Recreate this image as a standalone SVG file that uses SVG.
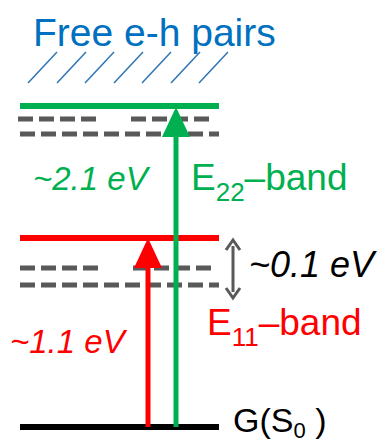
<svg xmlns="http://www.w3.org/2000/svg" width="385" height="444" viewBox="0 0 385 444">
<style>
text{font-family:"Liberation Sans",Arial,sans-serif}
.lvl{stroke-width:6;fill:none}
.dash{stroke:#595959;stroke-width:5;stroke-dasharray:15 6;fill:none}
.hatch{stroke:#2E75B6;stroke-width:1.5}
.it{font-style:italic}
</style>
<rect width="385" height="444" fill="#fff"/>
<g id="free-pairs">
<text x="33" y="46" font-size="39" fill="#0070C0">Free e-h pairs</text>
<g class="hatch">
<line x1="28" y1="83" x2="57" y2="52"/>
<line x1="57" y1="83" x2="86" y2="52"/>
<line x1="85" y1="83" x2="114" y2="52"/>
<line x1="114" y1="83" x2="143" y2="52"/>
<line x1="142" y1="83" x2="171" y2="52"/>
<line x1="171" y1="83" x2="200" y2="52"/>
<line x1="199" y1="83" x2="228" y2="52"/>
</g>
</g>
<g id="e22-level">
<line class="lvl" x1="20" y1="106" x2="219" y2="106" stroke="#00B050"/>
<path class="dash" d="M18 119H102M131 119H215M20 134H219"/>
</g>
<g id="e11-level">
<line class="lvl" x1="20" y1="238" x2="219" y2="238" stroke="#FF0000"/>
<path class="dash" d="M20 268H102M133 268H216M20 285H219"/>
</g>
<g id="ground">
<line class="lvl" x1="20" y1="427" x2="219" y2="427" stroke="#000"/>
</g>
<g id="connectors">
<line x1="148" y1="427" x2="148" y2="262" stroke="#FF0000" stroke-width="5"/>
<polygon points="134,268 162,268 148,238" fill="#FF0000"/>
<line x1="176" y1="427" x2="176" y2="130" stroke="#00B050" stroke-width="5"/>
<polygon points="162,137 190,137 176,107" fill="#00B050"/>
<line x1="233" y1="246" x2="233" y2="292" stroke="#595959" stroke-width="3"/>
<path d="M226 250L233 240L240 250M226 288L233 298L240 288" fill="none" stroke="#595959" stroke-width="3"/>
</g>
<g id="labels">
<text x="33" y="190" font-size="33" class="it" fill="#00B050">~2.1 eV</text>
<text x="191" y="190" font-size="37" fill="#00B050">E<tspan font-size="26" dy="11">22</tspan><tspan dy="-11">–band</tspan></text>
<text x="249" y="277" font-size="36" class="it" fill="#000">~0.1 eV</text>
<text x="207" y="335" font-size="37" fill="#FF0000">E<tspan font-size="26" dy="11">11</tspan><tspan dy="-11">–band</tspan></text>
<text x="10" y="353" font-size="33" class="it" fill="#FF0000">~1.1 eV</text>
<text x="233" y="432" font-size="34" fill="#000">G(S<tspan font-size="22" dy="6">0</tspan><tspan dy="-6"> )</tspan></text>
</g>
</svg>
